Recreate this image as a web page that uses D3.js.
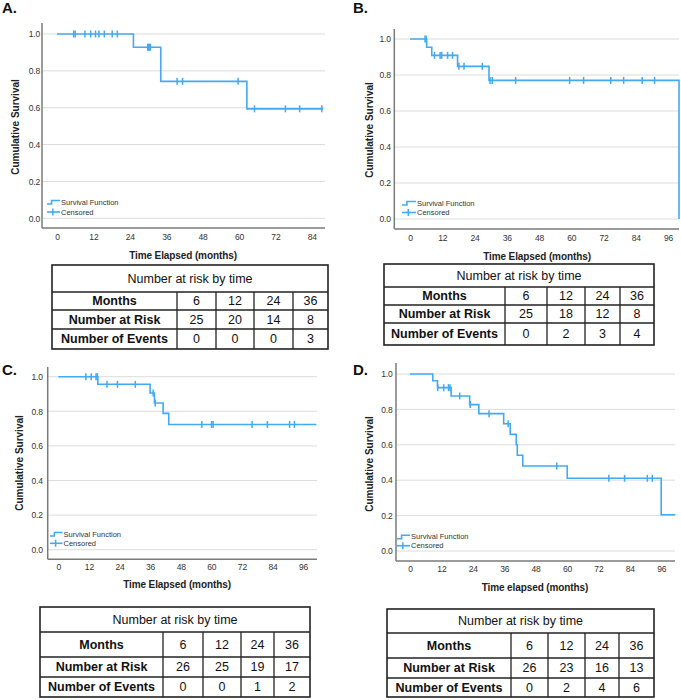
<!DOCTYPE html>
<html>
<head>
<meta charset="utf-8">
<script src="https://cdn.jsdelivr.net/npm/d3@7"></script>
<style>
  body { margin: 0; background: #fff; }
  svg { display: block; font-family: "Liberation Sans", Arial, sans-serif; }
</style>
</head>
<body>
<svg id="chart" width="681" height="700"></svg>
<script>
// ---- data ----
var riskMonths = [6, 12, 24, 36];

// panel A
var eventTimesA = [25.2, 34.2, 62.6];
var survivalA = [0.928, 0.743, 0.594];
var censoredA = [5.5, 6.0, 9.2, 11.1, 12.7, 13.8, 15.6, 18.2, 19.9, 29.9, 30.2, 30.5, 30.8, 39.6, 41.4, 59.7, 65.1, 75.3, 80.0, 87.3];
var lastTimeA = 87.7;
var atRiskA = [25, 20, 14, 8];
var eventsA = [0, 0, 0, 3];

// panel B
var eventTimesB = [6.2, 8.1, 17.7, 29.4, 100.1];
var survivalB = [0.954, 0.909, 0.848, 0.770, 0.0];
var censoredB = [5.6, 6.0, 9.1, 11.2, 11.8, 14.0, 15.8, 18.2, 20.1, 26.9, 29.8, 30.6, 39.3, 59.4, 64.6, 74.7, 79.5, 86.4, 91.0];
var lastTimeB = 100.1;
var atRiskB = [25, 18, 12, 8];
var eventsB = [0, 2, 3, 4];

// panel C
var eventTimesC = [15.5, 36.0, 37.7, 41.1, 43.3];
var survivalC = [0.956, 0.906, 0.848, 0.788, 0.724];
var censoredC = [10.8, 12.9, 14.8, 15.3, 19.1, 23.2, 30.2, 37.2, 38.0, 56.3, 60.1, 60.7, 76.0, 82.0, 90.7, 92.6];
var lastTimeC = 101.2;
var atRiskC = [26, 25, 19, 17];
var eventsC = [0, 0, 1, 2];

// panel D
var eventTimesD = [8.7, 10.5, 15.7, 22.8, 26.3, 35.8, 38.3, 40.6, 41.0, 43.1, 60.1, 96.0];
var survivalD = [0.962, 0.923, 0.876, 0.827, 0.776, 0.719, 0.659, 0.600, 0.541, 0.480, 0.411, 0.205];
var censoredD = [10.6, 12.9, 14.7, 15.3, 19.0, 23.0, 30.2, 37.5, 56.1, 76.0, 82.0, 90.7, 92.6];
var lastTimeD = 101.4;
var atRiskD = [26, 23, 16, 13];
var eventsD = [0, 2, 4, 6];

var yTicks = [0, 0.2, 0.4, 0.6, 0.8, 1.0];
var xTicksShort = [0, 12, 24, 36, 48, 60, 72, 84];
var xTicksLong = [0, 12, 24, 36, 48, 60, 72, 84, 96];

var blue = "#41aaf2";
var svg = d3.select("#chart");
svg.append("rect").attr("width", 681).attr("height", 700).attr("fill", "#fff");

// ---- layout for each panel ----
var panels = [
  {label: "A.", lx: 2, ly: 13, times: eventTimesA, surv: survivalA, cens: censoredA, last: lastTimeA,
   xTicks: xTicksShort, xTitle: "Time Elapsed (months)",
   left: 42, right: 325, top: 23, bottom: 228, x0: 57, px12: 36.4, y0: 218.3, y1: 34, ypad: 2, xpad: 6,
   xtX: 183, xtY: 259, ytX: 15, ytY: 127, legX: 47, legText: 61, leg1: 202, leg2: 212,
   risk: atRiskA, ev: eventsA, tx: [52, 177, 216, 254, 293, 328], ty: [265, 292, 310, 329, 349]},
  {label: "B.", lx: 353, ly: 13, times: eventTimesB, surv: survivalB, cens: censoredB, last: lastTimeB,
   xTicks: xTicksLong, xTitle: "Time Elapsed (months)",
   left: 394.3, right: 679, top: 29, bottom: 229, x0: 410, px12: 32.25, y0: 219, y1: 39, ypad: 3.5, xpad: 6,
   xtX: 537, xtY: 259.5, ytX: 369, ytY: 130, legX: 402, legText: 417, leg1: 203, leg2: 212.5,
   risk: atRiskB, ev: eventsB, tx: [384, 505, 547, 585, 620, 654], ty: [264, 287, 305, 323, 345]},
  {label: "C.", lx: 2, ly: 375, times: eventTimesC, surv: survivalC, cens: censoredC, last: lastTimeC,
   xTicks: xTicksLong, xTitle: "Time Elapsed (months)",
   left: 47.7, right: 317, top: 367, bottom: 559.3, x0: 58.3, px12: 30.6, y0: 549.7, y1: 376.7, ypad: 5, xpad: 5,
   xtX: 177, xtY: 587.5, ytX: 19, ytY: 463, legX: 50, legText: 63.5, leg1: 534, leg2: 543.3,
   risk: atRiskC, ev: eventsC, tx: [40, 163, 203, 241, 274, 310], ty: [607, 632, 657, 677, 697]},
  {label: "D.", lx: 353, ly: 375, times: eventTimesD, surv: survivalD, cens: censoredD, last: lastTimeD,
   xTicks: xTicksLong, xTitle: "Time elapsed (months)",
   left: 396, right: 675, top: 363, bottom: 561, x0: 410, px12: 31.4, y0: 551, y1: 374, ypad: 3.5, xpad: 5,
   xtX: 535, xtY: 590.5, ytX: 369.5, ytY: 464, legX: 397, legText: 411, leg1: 536.7, leg2: 545.7,
   risk: atRiskD, ev: eventsD, tx: [387, 511, 548, 585, 619, 654], ty: [609, 633, 658, 678, 697]}
];

function survAt(times, levels, t) {
  var s = 1;
  times.forEach(function(e, i) { if (e <= t) s = levels[i]; });
  return s;
}

panels.forEach(function(p) {
  var x = d3.scaleLinear().domain([0, 12]).range([p.x0, p.x0 + p.px12]);
  var y = d3.scaleLinear().domain([0, 1]).range([p.y0, p.y1]);
  var g = svg.append("g");

  g.append("text").attr("x", p.lx).attr("y", p.ly)
    .attr("font-size", 15).attr("font-weight", "bold").attr("fill", "#111").text(p.label);

  // grid lines
  g.selectAll(".grid").data(yTicks).enter().append("line")
    .attr("x1", p.left).attr("x2", p.right)
    .attr("y1", function(d) { return y(d); }).attr("y2", function(d) { return y(d); })
    .attr("stroke", "#dcdcdc").attr("stroke-width", 1);

  // axes
  var ya = g.append("g").attr("transform", "translate(" + p.left + ",0)")
    .call(d3.axisLeft(y).tickValues(yTicks).tickSize(0).tickPadding(p.ypad).tickFormat(d3.format(".1f")));
  var xa = g.append("g").attr("transform", "translate(0," + p.bottom + ")")
    .call(d3.axisBottom(x).tickValues(p.xTicks).tickSize(0).tickPadding(p.xpad));
  [ya, xa].forEach(function(a) {
    a.select(".domain").remove();
    a.selectAll("text").attr("font-size", 8.5).attr("fill", "#333")
      .attr("font-family", "'Liberation Sans', Arial, sans-serif").attr("letter-spacing", -0.2);
  });
  g.append("line").attr("x1", p.left).attr("x2", p.left).attr("y1", p.top).attr("y2", p.bottom)
    .attr("stroke", "#7a7a7a").attr("stroke-width", 1.5);
  g.append("line").attr("x1", p.left).attr("x2", p.right).attr("y1", p.bottom).attr("y2", p.bottom)
    .attr("stroke", "#7a7a7a").attr("stroke-width", 1.5);

  // survival step curve
  var pts = [[0, 1]];
  p.times.forEach(function(t, i) { pts.push([t, p.surv[i]]); });
  pts.push([p.last, p.surv[p.surv.length - 1]]);
  var line = d3.line().x(function(d) { return x(d[0]); }).y(function(d) { return y(d[1]); })
    .curve(d3.curveStepAfter);
  g.append("path").datum(pts).attr("d", line)
    .attr("fill", "none").attr("stroke", blue).attr("stroke-width", 1.6);

  // censor ticks
  g.selectAll(".cens").data(p.cens).enter().append("line")
    .attr("x1", function(d) { return x(d); }).attr("x2", function(d) { return x(d); })
    .attr("y1", function(d) { return y(survAt(p.times, p.surv, d)) - 3.5; })
    .attr("y2", function(d) { return y(survAt(p.times, p.surv, d)) + 3.5; })
    .attr("stroke", blue).attr("stroke-width", 1.5);

  // legend
  var lw = p.legText - p.legX - 1;
  g.append("path")
    .attr("d", "M" + p.legX + "," + (p.leg1 + 2) + "H" + (p.legX + lw * 0.35) + "V" + (p.leg1 - 1.5) + "H" + (p.legX + lw))
    .attr("fill", "none").attr("stroke", blue).attr("stroke-width", 1.6);
  g.append("line").attr("x1", p.legX).attr("x2", p.legX + lw).attr("y1", p.leg2).attr("y2", p.leg2)
    .attr("stroke", blue).attr("stroke-width", 1.6);
  g.append("line").attr("x1", p.legX + lw * 0.45).attr("x2", p.legX + lw * 0.45)
    .attr("y1", p.leg2 - 3.5).attr("y2", p.leg2 + 3.5).attr("stroke", blue).attr("stroke-width", 1.5);
  g.append("text").attr("x", p.legText).attr("y", p.leg1).attr("dy", "0.35em")
    .attr("font-size", 7.5).attr("fill", "#333").text("Survival Function");
  g.append("text").attr("x", p.legText).attr("y", p.leg2).attr("dy", "0.35em")
    .attr("font-size", 7.5).attr("fill", "#333").text("Censored");

  // axis titles
  g.append("text").attr("x", p.xtX).attr("y", p.xtY).attr("text-anchor", "middle")
    .attr("font-size", 10).attr("font-weight", "bold").attr("fill", "#222").attr("letter-spacing", -0.1)
    .text(p.xTitle);
  g.append("text").attr("transform", "translate(" + p.ytX + "," + p.ytY + ") rotate(-90)")
    .attr("text-anchor", "middle").attr("dy", "0.35em")
    .attr("font-size", 10).attr("font-weight", "bold").attr("fill", "#222")
    .text("Cumulative Survival");

  // risk table
  var t = svg.append("g");
  var tx = p.tx, ty = p.ty;
  t.append("rect").attr("x", tx[0]).attr("y", ty[0]).attr("width", tx[5] - tx[0]).attr("height", ty[4] - ty[0])
    .attr("fill", "none").attr("stroke", "#222").attr("stroke-width", 1.6);
  [1, 2, 3].forEach(function(r) {
    t.append("line").attr("x1", tx[0]).attr("x2", tx[5]).attr("y1", ty[r]).attr("y2", ty[r])
      .attr("stroke", "#222").attr("stroke-width", 1.3);
  });
  [1, 2, 3, 4].forEach(function(c) {
    t.append("line").attr("x1", tx[c]).attr("x2", tx[c]).attr("y1", ty[1]).attr("y2", ty[4])
      .attr("stroke", "#222").attr("stroke-width", 1.3);
  });
  t.append("text").attr("x", (tx[0] + tx[5]) / 2).attr("y", (ty[0] + ty[1]) / 2).attr("dy", "0.35em")
    .attr("text-anchor", "middle").attr("font-size", 12.5).attr("fill", "#111").text("Number at risk by time");
  var rows = [["Months", riskMonths], ["Number at Risk", p.risk], ["Number of Events", p.ev]];
  rows.forEach(function(row, r) {
    var cy = (ty[r + 1] + ty[r + 2]) / 2;
    t.append("text").attr("x", (tx[0] + tx[1]) / 2).attr("y", cy).attr("dy", "0.35em")
      .attr("text-anchor", "middle").attr("font-size", 12.5).attr("font-weight", "bold").attr("fill", "#111")
      .text(row[0]);
    row[1].forEach(function(v, c) {
      t.append("text").attr("x", (tx[c + 1] + tx[c + 2]) / 2).attr("y", cy).attr("dy", "0.35em")
        .attr("text-anchor", "middle").attr("font-size", 12.5).attr("fill", "#111").text(v);
    });
  });
});
</script>
</body>
</html>
